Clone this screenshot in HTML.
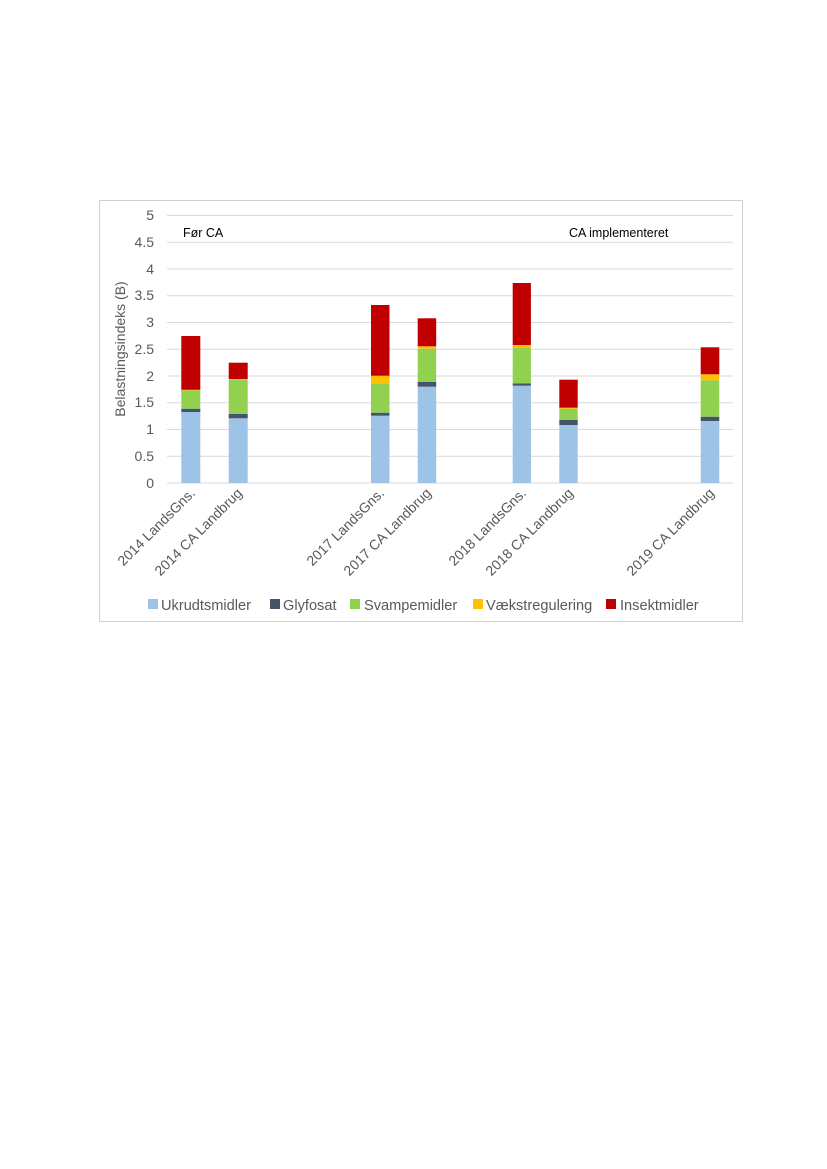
<!DOCTYPE html>
<html><head><meta charset="utf-8"><style>
html,body{margin:0;padding:0;background:#fff;}
svg{display:block;font-family:"Liberation Sans",sans-serif;}
</style></head><body>
<svg width="827" height="1169" viewBox="0 0 827 1169" xmlns="http://www.w3.org/2000/svg">
<rect x="99.5" y="200.5" width="643" height="421" fill="#fff" stroke="#d0d0d0" stroke-width="1"/>
<g stroke="#d9d9d9" stroke-width="1">
<line x1="167" x2="733" y1="215.5" y2="215.5"/>
<line x1="167" x2="733" y1="242.2" y2="242.2"/>
<line x1="167" x2="733" y1="269" y2="269"/>
<line x1="167" x2="733" y1="295.7" y2="295.7"/>
<line x1="167" x2="733" y1="322.5" y2="322.5"/>
<line x1="167" x2="733" y1="349.2" y2="349.2"/>
<line x1="167" x2="733" y1="376" y2="376"/>
<line x1="167" x2="733" y1="402.7" y2="402.7"/>
<line x1="167" x2="733" y1="429.5" y2="429.5"/>
<line x1="167" x2="733" y1="456.2" y2="456.2"/>
<line x1="167" x2="733" y1="483" y2="483"/>
</g>
<g font-size="14" fill="#595959" text-anchor="end">
<text x="154" y="220">5</text>
<text x="154" y="247">4.5</text>
<text x="154" y="274">4</text>
<text x="154" y="300">3.5</text>
<text x="154" y="327">3</text>
<text x="154" y="354">2.5</text>
<text x="154" y="381">2</text>
<text x="154" y="407">1.5</text>
<text x="154" y="434">1</text>
<text x="154" y="461">0.5</text>
<text x="154" y="488">0</text>
</g>
<text transform="translate(125,349) rotate(-90)" font-size="14" fill="#595959" text-anchor="middle">Belastningsindeks (B)</text>
<text x="183" y="237" font-size="12.5" fill="#000">Før CA</text>
<text x="569" y="237" font-size="12.5" fill="#000">CA implementeret</text>
<g>
<rect x="181.3" y="412" width="19" height="71" fill="#9dc3e6"/>
<rect x="181.3" y="408.7" width="19" height="3.3" fill="#44546a"/>
<rect x="181.3" y="390.3" width="19" height="18.4" fill="#92d050"/>
<rect x="181.3" y="389.8" width="19" height="0.5" fill="#ffc000"/>
<rect x="181.3" y="336" width="19" height="53.8" fill="#c00000"/>
<rect x="228.7" y="418.3" width="19" height="64.7" fill="#9dc3e6"/>
<rect x="228.7" y="414" width="19" height="4.3" fill="#44546a"/>
<rect x="228.7" y="380" width="19" height="34" fill="#92d050"/>
<rect x="228.7" y="379" width="19" height="1" fill="#ffc000"/>
<rect x="228.7" y="362.7" width="19" height="16.3" fill="#c00000"/>
<rect x="371" y="415.7" width="18.5" height="67.3" fill="#9dc3e6"/>
<rect x="371" y="412.7" width="18.5" height="3" fill="#44546a"/>
<rect x="371" y="383.3" width="18.5" height="29.4" fill="#92d050"/>
<rect x="371" y="375.7" width="18.5" height="7.6" fill="#ffc000"/>
<rect x="371" y="305" width="18.5" height="70.7" fill="#c00000"/>
<rect x="417.7" y="386.7" width="18.5" height="96.3" fill="#9dc3e6"/>
<rect x="417.7" y="382" width="18.5" height="4.7" fill="#44546a"/>
<rect x="417.7" y="348.7" width="18.5" height="33.3" fill="#92d050"/>
<rect x="417.7" y="346.3" width="18.5" height="2.4" fill="#ffc000"/>
<rect x="417.7" y="318.3" width="18.5" height="28" fill="#c00000"/>
<rect x="512.7" y="385.7" width="18.2" height="97.3" fill="#9dc3e6"/>
<rect x="512.7" y="383.3" width="18.2" height="2.4" fill="#44546a"/>
<rect x="512.7" y="347.3" width="18.2" height="36" fill="#92d050"/>
<rect x="512.7" y="345" width="18.2" height="2.3" fill="#ffc000"/>
<rect x="512.7" y="283" width="18.2" height="62" fill="#c00000"/>
<rect x="559.3" y="425" width="18.4" height="58" fill="#9dc3e6"/>
<rect x="559.3" y="420" width="18.4" height="5" fill="#44546a"/>
<rect x="559.3" y="408.7" width="18.4" height="11.3" fill="#92d050"/>
<rect x="559.3" y="407.7" width="18.4" height="1" fill="#ffc000"/>
<rect x="559.3" y="379.7" width="18.4" height="28" fill="#c00000"/>
<rect x="700.7" y="421" width="18.6" height="62" fill="#9dc3e6"/>
<rect x="700.7" y="416.7" width="18.6" height="4.3" fill="#44546a"/>
<rect x="700.7" y="380.3" width="18.6" height="36.4" fill="#92d050"/>
<rect x="700.7" y="374.3" width="18.6" height="6" fill="#ffc000"/>
<rect x="700.7" y="347.3" width="18.6" height="27" fill="#c00000"/>
</g>
<g font-size="14" fill="#595959" text-anchor="end">
<text transform="translate(196,494) rotate(-45)">2014 LandsGns.</text>
<text transform="translate(243,494) rotate(-45)">2014 CA Landbrug</text>
<text transform="translate(385,494) rotate(-45)">2017 LandsGns.</text>
<text transform="translate(432,494) rotate(-45)">2017 CA Landbrug</text>
<text transform="translate(527,494) rotate(-45)">2018 LandsGns.</text>
<text transform="translate(574,494) rotate(-45)">2018 CA Landbrug</text>
<text transform="translate(715,494) rotate(-45)">2019 CA Landbrug</text>
</g>
<g font-size="14.6" fill="#595959">
<rect x="148" y="599" width="10" height="10" fill="#9dc3e6"/><text x="161" y="610">Ukrudtsmidler</text>
<rect x="270" y="599" width="10" height="10" fill="#44546a"/><text x="283" y="610">Glyfosat</text>
<rect x="350" y="599" width="10" height="10" fill="#92d050"/><text x="364" y="610">Svampemidler</text>
<rect x="473" y="599" width="10" height="10" fill="#ffc000"/><text x="486" y="610">Vækstregulering</text>
<rect x="606" y="599" width="10" height="10" fill="#c00000"/><text x="620" y="610">Insektmidler</text>
</g>
</svg>
</body></html>
